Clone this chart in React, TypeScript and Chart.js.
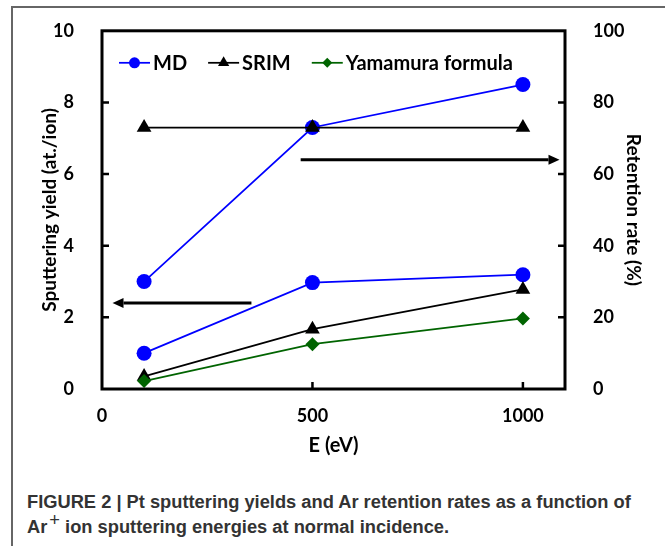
import { useEffect, useRef } from 'react';
import { Chart, registerables } from 'chart.js';

Chart.register(...registerables);

const ENERGY = [100, 500, 1000];
const MD_YIELD = [1.0, 2.97, 3.19];
const SRIM_YIELD = [0.35, 1.67, 2.78];
const YAMAMURA_YIELD = [0.22, 1.25, 1.97];
const MD_RETENTION = [30, 73, 85];
const SRIM_RETENTION = [73, 73, 73];
const SERIES_NAMES = ['MD', 'SRIM', 'Yamamura formula'];
const SERIES_COLORS = ['#0000FF', '#000000', '#006400'];
const SERIES_MARKERS = ['circle', 'triangle', 'rectRot'];
const X_TICKS = [0, 500, 1000];
const Y_LEFT_TICKS = [0, 2, 4, 6, 8, 10];
const Y_RIGHT_TICKS = [0, 20, 40, 60, 80, 100];
const X_TITLE = 'E (eV)';
const Y_LEFT_TITLE = 'Sputtering yield (at./ion)';
const Y_RIGHT_TITLE = 'Retention rate (%)';
// annotation arrows: start energy, end energy, value on the given axis
const ARROW_TO_YIELD = { from: 355, to: 25, value: 2.4, axis: 'y' };
const ARROW_TO_RETENTION = { from: 472, to: 1087, value: 64, axis: 'y2' };

const FONT = 'Lato, "Open Sans", "DejaVu Sans", sans-serif';

function drawMarker(ctx: CanvasRenderingContext2D, kind: string, x: number, y: number, r: number) {
  ctx.beginPath();
  if (kind === 'circle') {
    ctx.arc(x, y, r, 0, Math.PI * 2);
  } else if (kind === 'triangle') {
    ctx.moveTo(x, y - r);
    ctx.lineTo(x + r * Math.sin((2 * Math.PI) / 3), y - r * Math.cos((2 * Math.PI) / 3));
    ctx.lineTo(x - r * Math.sin((2 * Math.PI) / 3), y - r * Math.cos((2 * Math.PI) / 3));
    ctx.closePath();
  } else {
    ctx.moveTo(x, y - r);
    ctx.lineTo(x + r, y);
    ctx.lineTo(x, y + r);
    ctx.lineTo(x - r, y);
    ctx.closePath();
  }
  ctx.fill();
}

function drawArrow(ctx: CanvasRenderingContext2D, x1: number, x2: number, y: number) {
  const dir = Math.sign(x2 - x1);
  const head = 11;
  ctx.save();
  ctx.strokeStyle = '#000';
  ctx.fillStyle = '#000';
  ctx.lineWidth = 3;
  ctx.beginPath();
  ctx.moveTo(x1, y);
  ctx.lineTo(x2 - dir * head, y);
  ctx.stroke();
  ctx.beginPath();
  ctx.moveTo(x2, y);
  ctx.lineTo(x2 - dir * head, y - 5);
  ctx.lineTo(x2 - dir * head, y + 5);
  ctx.closePath();
  ctx.fill();
  ctx.restore();
}

const decorPlugin = {
  id: 'decor',
  afterDatasetsDraw(chart: any) {
    const ctx: CanvasRenderingContext2D = chart.ctx;
    const { left, right, top, bottom } = chart.chartArea;
    const xs = chart.scales.x;
    const ys = chart.scales.y;
    const ys2 = chart.scales.y2;

    // arrows
    for (const a of [ARROW_TO_YIELD, ARROW_TO_RETENTION]) {
      const sc = a.axis === 'y' ? ys : ys2;
      drawArrow(ctx, xs.getPixelForValue(a.from), xs.getPixelForValue(a.to), sc.getPixelForValue(a.value));
    }

    ctx.save();
    // plot box
    ctx.strokeStyle = '#000';
    ctx.lineWidth = 3;
    ctx.strokeRect(left, top, right - left, bottom - top);
    // inner tick marks
    ctx.lineWidth = 2.5;
    const tl = 7;
    ctx.beginPath();
    for (const v of Y_LEFT_TICKS.slice(1, -1)) {
      const p = ys.getPixelForValue(v);
      ctx.moveTo(left, p);
      ctx.lineTo(left + tl, p);
    }
    for (const v of Y_RIGHT_TICKS.slice(1, -1)) {
      const p = ys2.getPixelForValue(v);
      ctx.moveTo(right, p);
      ctx.lineTo(right - tl, p);
    }
    for (const v of X_TICKS.slice(1)) {
      const p = xs.getPixelForValue(v);
      ctx.moveTo(p, bottom);
      ctx.lineTo(p, bottom - tl);
    }
    ctx.stroke();

    // legend
    ctx.font = `bold 20px ${FONT}`;
    ctx.textBaseline = 'middle';
    ctx.textAlign = 'left';
    let x = left + 17;
    const ly = top + 32;
    const sizes = [5.5, 6.5, 5];
    SERIES_NAMES.forEach((name, i) => {
      ctx.strokeStyle = SERIES_COLORS[i];
      ctx.fillStyle = SERIES_COLORS[i];
      ctx.lineWidth = 1.75;
      ctx.beginPath();
      ctx.moveTo(x, ly);
      ctx.lineTo(x + 31, ly);
      ctx.stroke();
      drawMarker(ctx, SERIES_MARKERS[i], x + 15.5, ly, sizes[i]);
      ctx.fillStyle = '#000';
      ctx.fillText(name, x + 34, ly + 1);
      x += 34 + ctx.measureText(name).width + 21;
    });

    // axis titles
    ctx.fillStyle = '#000';
    ctx.textAlign = 'center';
    ctx.font = `bold 20px ${FONT}`;
    ctx.fillText(X_TITLE, (left + right) / 2, bottom + 57);
    ctx.font = `bold 19px ${FONT}`;
    ctx.save();
    ctx.translate(left - 52, (top + bottom) / 2);
    ctx.rotate(-Math.PI / 2);
    ctx.fillText(Y_LEFT_TITLE, 0, 0);
    ctx.restore();
    ctx.save();
    ctx.translate(right + 68, (top + bottom) / 2);
    ctx.rotate(Math.PI / 2);
    ctx.fillText(Y_RIGHT_TITLE, 0, 0);
    ctx.restore();
    ctx.restore();
  },
};

function pts(ys: number[]) {
  return ENERGY.map((e, i) => ({ x: e, y: ys[i] }));
}

export default function App() {
  const ref = useRef<HTMLCanvasElement>(null);
  useEffect(() => {
    if (!ref.current) return;
    const tickFont = { family: FONT, size: 18, weight: 'bold' as const };
    const plain = (v: any) => String(v);
    const line = (label: string, data: number[], idx: number, axis: string, radius: number, order: number) => ({
      label,
      data: pts(data),
      yAxisID: axis,
      borderColor: SERIES_COLORS[idx],
      backgroundColor: SERIES_COLORS[idx],
      pointBackgroundColor: SERIES_COLORS[idx],
      pointBorderColor: SERIES_COLORS[idx],
      pointBorderWidth: 0,
      pointStyle: SERIES_MARKERS[idx],
      pointRadius: radius,
      borderWidth: 1.75,
      showLine: true,
      fill: false,
      tension: 0,
      order,
      clip: false as any,
    });
    const chart = new Chart(ref.current, {
      type: 'line',
      data: {
        datasets: [
          line(SERIES_NAMES[0], MD_YIELD, 0, 'y', 7.5, 3),
          line(SERIES_NAMES[0], MD_RETENTION, 0, 'y2', 7.5, 3),
          line(SERIES_NAMES[1], SRIM_YIELD, 1, 'y', 8.5, 2),
          line(SERIES_NAMES[1], SRIM_RETENTION, 1, 'y2', 8.5, 2),
          line(SERIES_NAMES[2], YAMAMURA_YIELD, 2, 'y', 7, 1),
        ] as any,
      },
      options: {
        animation: false,
        responsive: false,
        layout: { padding: { top: 29, left: 0, right: 0, bottom: 0 } },
        plugins: { legend: { display: false }, tooltip: { enabled: false } },
        scales: {
          x: {
            type: 'linear',
            min: 0,
            max: 1100,
            afterBuildTicks: (s: any) => { s.ticks = X_TICKS.map((v) => ({ value: v })); },
            afterFit: (s: any) => { s.height = 81; },
            grid: { display: false },
            border: { display: false },
            ticks: { font: tickFont, color: '#000', padding: 8, maxRotation: 0, callback: plain },
          },
          y: {
            type: 'linear',
            position: 'left',
            min: 0,
            max: 10,
            afterBuildTicks: (s: any) => { s.ticks = Y_LEFT_TICKS.map((v) => ({ value: v })); },
            afterFit: (s: any) => { s.width = 102; },
            grid: { display: false },
            border: { display: false },
            ticks: { font: tickFont, color: '#000', padding: 20, callback: plain },
          },
          y2: {
            type: 'linear',
            position: 'right',
            min: 0,
            max: 100,
            afterBuildTicks: (s: any) => { s.ticks = Y_RIGHT_TICKS.map((v) => ({ value: v })); },
            afterFit: (s: any) => { s.width = 100; },
            grid: { display: false },
            border: { display: false },
            ticks: { font: tickFont, color: '#000', padding: 20, callback: plain },
          },
        },
      } as any,
      plugins: [decorPlugin],
    });
    return () => chart.destroy();
  }, []);

  return (
    <div style={{ position: 'absolute', left: 0, top: 0, width: 665, height: 546, overflow: 'hidden', background: '#fff' }}>
      <div style={{ position: 'absolute', left: 11, top: 6, width: 800, height: 800, borderLeft: '2px solid #666', borderTop: '2px solid #666' }} />
      <canvas ref={ref} width={665} height={470} style={{ position: 'absolute', left: 0, top: 0, width: 665, height: 470 }} />
      <div
        style={{
          position: 'absolute',
          left: 27,
          top: 489,
          fontFamily: '"Liberation Sans", Arial, sans-serif',
          fontWeight: 'bold',
          fontSize: 18.3,
          lineHeight: '25px',
          color: '#333',
          whiteSpace: 'nowrap',
        }}
      >
        FIGURE 2 | Pt sputtering yields and Ar retention rates as a function of
        <br />
        Ar
        <span style={{ position: 'relative', top: '-0.4em', fontWeight: 'normal', fontSize: '1em', marginLeft: 2 }}>+</span> ion sputtering energies at normal incidence.
      </div>
    </div>
  );
}
